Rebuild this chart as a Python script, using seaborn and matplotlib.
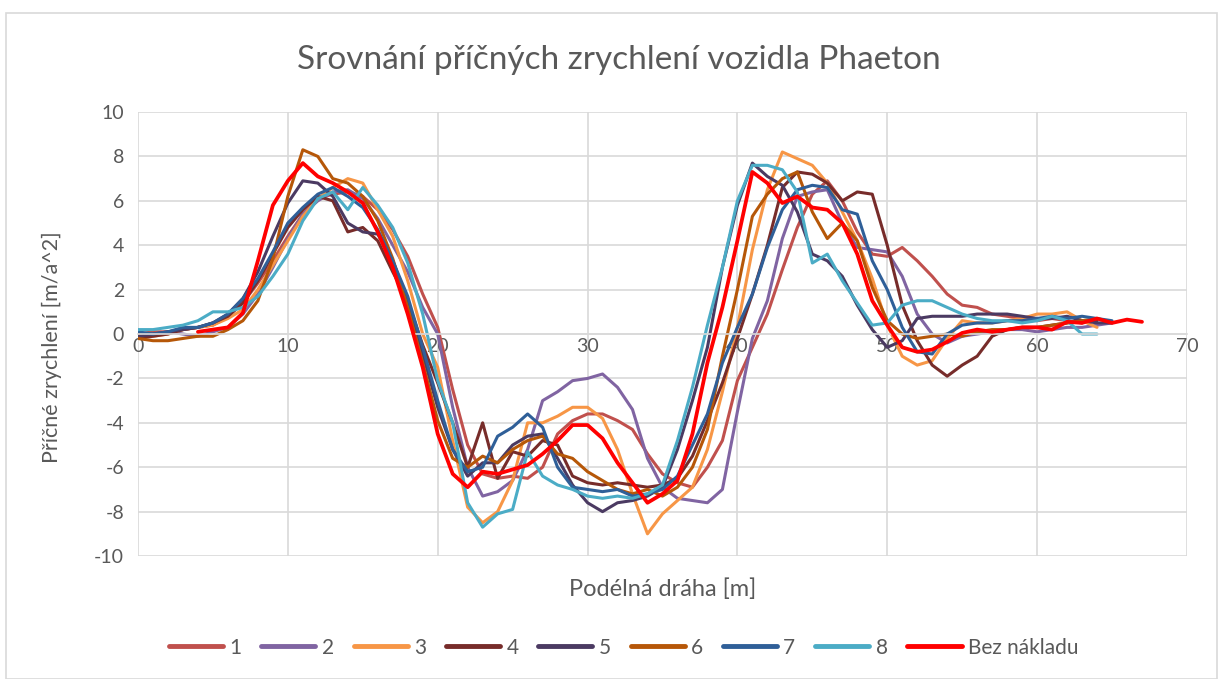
import matplotlib
matplotlib.use("Agg")
import matplotlib.pyplot as plt
from matplotlib.lines import Line2D
from matplotlib.patches import Rectangle
import seaborn as sns
import pandas as pd

# podélná dráha [m], vzorkováno po 1 m
distance = list(range(0, 68))

jizda_1 = [0.0, 0.1, 0.1, 0.2, 0.3, 0.4, 0.8, 1.4, 2.3, 3.3,
           4.4, 5.4, 6.1, 6.3, 6.4, 6.2, 5.6, 4.7, 3.5, 1.8,
           0.3, -2.5, -5.0, -6.3, -6.5, -6.4, -6.5, -6.0, -4.5, -3.9,
           -3.6, -3.6, -3.9, -4.3, -5.4, -6.3, -6.7, -6.9, -6.0, -4.8,
           -2.1, -0.6, 0.9, 2.9, 4.8, 6.3, 6.9, 6.0, 4.6, 3.6,
           3.5, 3.9, 3.3, 2.6, 1.8, 1.3, 1.2, 0.9, 0.8, 0.7,
           0.6, 0.7, 0.6, 0.5]
jizda_2 = [0.0, 0.0, 0.1, 0.0, -0.1, 0.1, 0.3, 0.9, 1.8, 3.0,
           4.3, 5.4, 6.0, 6.4, 6.5, 6.1, 5.2, 4.0, 2.8, 1.2,
           0.0, -3.3, -6.0, -7.3, -7.1, -6.6, -5.2, -3.0, -2.6, -2.1,
           -2.0, -1.8, -2.4, -3.4, -5.6, -6.9, -7.4, -7.5, -7.6, -7.0,
           -3.5, -0.2, 1.5, 4.3, 6.2, 6.4, 6.5, 5.0, 3.9, 3.8,
           3.7, 2.6, 0.9, 0.0, -0.4, -0.1, 0.0, 0.1, 0.2, 0.2,
           0.1, 0.2, 0.3, 0.3, 0.4, 0.5]
jizda_3 = [0.0, -0.1, 0.0, 0.2, 0.3, 0.4, 0.7, 1.1, 2.0, 3.1,
           4.2, 5.3, 6.1, 6.6, 7.0, 6.8, 5.6, 4.4, 2.4, 0.0,
           -1.5, -4.8, -7.8, -8.5, -8.0, -6.6, -4.0, -4.0, -3.7, -3.3,
           -3.3, -3.8, -5.2, -7.2, -9.0, -8.1, -7.5, -6.9, -5.2, -2.6,
           0.3, 3.8, 6.5, 8.2, 7.9, 7.6, 6.8, 5.5, 4.2, 2.5,
           0.4, -1.0, -1.4, -1.2, -0.2, 0.6, 0.5, 0.5, 0.6, 0.7,
           0.9, 0.9, 1.0, 0.6, 0.3]
jizda_4 = [-0.2, -0.1, 0.0, 0.2, 0.3, 0.5, 0.8, 1.4, 2.4, 3.6,
           4.8, 5.6, 6.2, 6.0, 4.6, 4.8, 4.2, 2.8, 1.5, -0.5,
           -2.2, -4.0, -6.0, -4.0, -6.5, -5.3, -5.5, -4.8, -5.0, -6.4,
           -6.7, -6.8, -6.7, -6.8, -6.9, -6.8, -6.5, -5.5, -3.9, -2.2,
           -0.2, 1.8, 4.0, 6.6, 7.3, 7.2, 6.8, 6.0, 6.4, 6.3,
           4.0, 1.3, -0.3, -1.4, -1.9, -1.4, -1.0, -0.1, 0.2, 0.3,
           0.3, 0.4, 0.5, 0.6, 0.6]
jizda_5 = [-0.1, 0.0, 0.1, 0.2, 0.3, 0.5, 0.9, 1.6, 2.8, 4.4,
           5.9, 6.9, 6.8, 6.2, 5.0, 4.6, 4.5, 3.3, 1.5, -0.9,
           -3.3, -5.2, -6.4, -5.8, -5.8, -5.0, -4.6, -4.5, -5.6, -6.8,
           -7.6, -8.0, -7.6, -7.5, -7.3, -6.9, -5.2, -3.0, -0.6, 3.0,
           5.8, 7.7, 7.1, 6.7, 5.5, 3.6, 3.3, 2.6, 1.3, 0.2,
           -0.6, -0.3, 0.7, 0.8, 0.8, 0.8, 0.9, 0.9, 0.9, 0.8,
           0.7, 0.7, 0.8, 0.6, 0.5, 0.5]
jizda_6 = [-0.2, -0.3, -0.3, -0.2, -0.1, -0.1, 0.2, 0.6, 1.5, 3.4,
           6.2, 8.3, 8.0, 7.0, 6.8, 6.2, 5.1, 3.4, 1.2, -1.3,
           -3.9, -5.6, -6.0, -5.5, -5.8, -5.2, -4.8, -4.6, -5.4, -5.6,
           -6.2, -6.6, -7.0, -7.2, -7.0, -7.3, -6.9, -6.0, -4.3, -1.0,
           2.0, 5.3, 6.3, 7.0, 7.3, 5.5, 4.3, 5.0, 4.2, 2.1,
           0.6, 0.0, -0.2, -0.1, 0.0, -0.1, 0.1, 0.2, 0.2, 0.3,
           0.3, 0.4, 0.5, 0.6, 0.7]
jizda_7 = [0.1, 0.0, 0.1, 0.3, 0.3, 0.5, 0.9, 1.6, 2.5, 3.7,
           5.0, 5.7, 6.3, 6.6, 6.2, 5.7, 4.7, 3.3, 1.7, -0.6,
           -3.0, -5.2, -6.2, -6.0, -4.6, -4.2, -3.6, -4.2, -6.0, -6.9,
           -7.0, -7.1, -7.0, -7.3, -7.2, -7.0, -6.4, -5.0, -3.6, -1.3,
           0.3, 1.8, 3.9, 5.6, 6.5, 6.7, 6.6, 5.6, 5.4, 3.3,
           2.0, 0.3, -0.8, -0.9, 0.0, 0.4, 0.5, 0.5, 0.6, 0.6,
           0.7, 0.8, 0.7, 0.8, 0.7, 0.6]
jizda_8 = [0.2, 0.2, 0.3, 0.4, 0.6, 1.0, 1.0, 1.2, 1.7, 2.6,
           3.6, 5.1, 6.1, 6.4, 5.6, 6.6, 5.8, 4.8, 3.2, 0.9,
           -2.1, -4.0, -7.6, -8.7, -8.1, -7.9, -5.3, -6.4, -6.8, -7.0,
           -7.3, -7.4, -7.3, -7.4, -7.2, -6.8, -4.8, -2.4, 0.4, 3.0,
           6.0, 7.6, 7.6, 7.4, 6.4, 3.2, 3.6, 2.4, 1.4, 0.4,
           0.5, 1.3, 1.5, 1.5, 1.2, 0.9, 0.7, 0.6, 0.6, 0.5,
           0.6, 0.8, 0.6, 0.0, 0.0]
# bez nákladu začíná až na 4 m
bez_nakladu_start = 4
bez_nakladu = [0.1, 0.2, 0.3, 0.95, 3.3, 5.8,
               6.9, 7.7, 7.1, 6.8, 6.4, 5.9, 4.6, 3.0, 0.9, -1.5,
               -4.5, -6.3, -6.9, -6.2, -6.3, -6.1, -5.9, -5.4, -4.8, -4.1,
               -4.1, -4.7, -5.8, -6.7, -7.6, -7.2, -6.6, -4.5, -1.3, 1.2,
               4.2, 7.3, 6.8, 5.9, 6.2, 5.7, 5.6, 5.0, 3.6, 1.5,
               0.4, -0.6, -0.8, -0.7, -0.35, 0.05, 0.2, 0.1, 0.2, 0.3,
               0.3, 0.2, 0.55, 0.5, 0.7, 0.5, 0.65, 0.55]

series_names = ["1", "2", "3", "4", "5", "6", "7", "8", "Bez nákladu"]
series_values = [jizda_1, jizda_2, jizda_3, jizda_4, jizda_5, jizda_6, jizda_7, jizda_8, bez_nakladu]
series_start = [0, 0, 0, 0, 0, 0, 0, 0, bez_nakladu_start]
colors = ["#C0504D", "#8064A2", "#F79646", "#772C2A", "#4B3A62",
          "#B65708", "#2F5F98", "#4BACC6", "#FF0000"]

rows = []
for name, vals, start in zip(series_names, series_values, series_start):
    for d, v in zip(distance[start:start + len(vals)], vals):
        rows.append({"x": d, "y": v, "serie": name})
df = pd.DataFrame(rows)

sns.set_style("white")
plt.rcParams["font.family"] = ["Lato", "DejaVu Sans"]
plt.rcParams["axes.unicode_minus"] = False
grey = "#595959"

fig = plt.figure(figsize=(12.18, 6.79), dpi=100)
ax = fig.add_axes([0.1133, 0.1811, 0.8612, 0.6539])

sns.lineplot(data=df, x="x", y="y", hue="serie", hue_order=series_names,
             palette=colors, estimator=None, sort=False, linewidth=2.2,
             legend=False, ax=ax)
# bez nákladu tlustší a navrchu
ax.get_lines()[-1].set_linewidth(2.7)
ax.get_lines()[-1].set_zorder(5)

ax.set_xlim(0, 70)
ax.set_ylim(-10, 10)
ax.set_xticks(range(0, 71, 10))
ax.set_yticks(range(-10, 11, 2))
ax.grid(True, color="#d9d9d9", linewidth=1.2)
ax.set_axisbelow(True)
for side in ["top", "right", "left"]:
    ax.spines[side].set_visible(False)
ax.spines["bottom"].set_position(("data", 0))
ax.spines["bottom"].set_color("#d9d9d9")
ax.spines["bottom"].set_linewidth(1.2)
ax.tick_params(axis="both", length=0, labelsize=14, labelcolor=grey)
ax.tick_params(axis="x", pad=3)
ax.tick_params(axis="y", pad=10)

ax.set_xlabel("Podélná dráha [m]", fontsize=17, color=grey)
ax.xaxis.set_label_coords(0.5, -0.05)
ax.set_ylabel("Příčné zrychlení [m/a^2]", fontsize=15.5, color=grey)
ax.yaxis.set_label_coords(-0.072, 0.47)

fig.text(0.508, 0.912, "Srovnání příčných zrychlení vozidla Phaeton",
         ha="center", va="center", fontsize=24, color=grey)

handles = [Line2D([0], [0], color=c, linewidth=3.5) for c in colors]
fig.legend(handles, series_names, loc="center", bbox_to_anchor=(0.512, 0.046),
           ncol=9, frameon=False, fontsize=15, handlelength=2.6,
           columnspacing=0.95, handletextpad=0.3, labelcolor=grey)

fig.patches.append(Rectangle((0.005, 0.0), 0.994, 0.981, transform=fig.transFigure,
                             fill=False, edgecolor="#d9d9d9", linewidth=1.2))

fig.savefig("out.png", dpi=100)
